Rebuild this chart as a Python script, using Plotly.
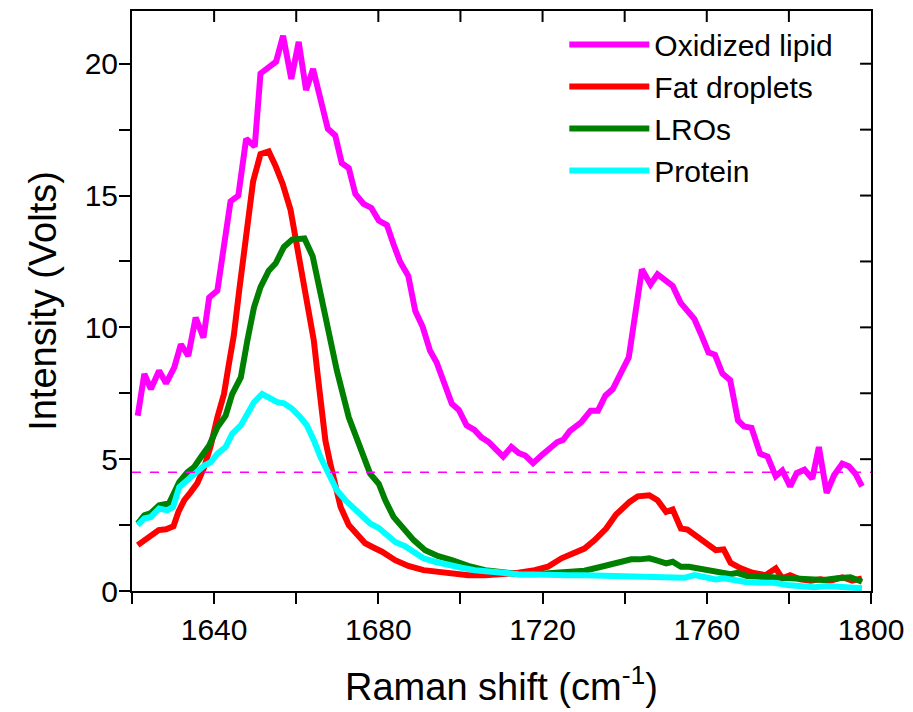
import plotly.graph_objects as go

# ---------------- data ----------------
ox_x = [1621.4, 1623.0, 1624.6, 1626.6, 1628.3, 1630.3, 1631.9, 1633.7, 1635.5, 1637.4,
        1638.8, 1640.8, 1644.0, 1645.9, 1647.8, 1649.9, 1651.3, 1653.3, 1655.1, 1656.8,
        1658.8, 1660.6, 1662.4, 1664.1, 1665.9, 1667.7, 1669.5, 1671.1, 1672.8, 1674.4,
        1676.4, 1678.3, 1680.1, 1682.1, 1683.7, 1685.3, 1687.3, 1689.0, 1690.8, 1692.6,
        1694.2, 1697.9, 1699.6, 1701.5, 1703.4, 1705.1, 1706.9, 1708.8, 1710.4, 1712.4,
        1714.2, 1715.8, 1717.7, 1719.7, 1721.7, 1723.6, 1725.0, 1726.6, 1729.4, 1731.7,
        1733.5, 1735.3, 1737.1, 1739.1, 1741.0, 1744.2, 1746.3, 1748.0, 1750.1, 1751.7,
        1753.6, 1755.2, 1757.0, 1758.6, 1760.4, 1762.0, 1763.8, 1765.7, 1767.6, 1769.1,
        1770.9, 1773.0, 1774.8, 1776.8, 1778.4, 1780.3, 1781.9, 1783.8, 1785.7, 1787.3,
        1789.2, 1791.0, 1793.0, 1794.6, 1796.2, 1797.8]
ox_y = [6.65, 8.23, 7.66, 8.36, 7.88, 8.48, 9.36, 8.92, 10.37, 9.61,
        11.13, 11.4, 14.78, 15.0, 17.15, 16.86, 19.63, 19.89, 20.08, 21.06,
        19.42, 20.83, 19.0, 19.8, 18.69, 17.53, 17.28, 16.23, 16.04, 15.06,
        14.68, 14.53, 14.05, 13.88, 13.15, 12.49, 11.95, 10.62, 10.02, 9.11,
        8.67, 7.10, 6.87, 6.28, 6.11, 5.83, 5.65, 5.33, 5.10, 5.46,
        5.23, 5.14, 4.85, 5.14, 5.42, 5.65, 5.73, 6.06, 6.40, 6.84,
        6.84, 7.41, 7.66, 8.29, 8.86, 12.2, 11.63, 12.01, 11.76, 11.57,
        10.94, 10.6, 10.31, 9.74, 9.05, 8.96, 8.25, 8.0, 6.47, 6.24,
        6.19, 5.21, 5.10, 4.35, 4.57, 3.97, 4.47, 4.60, 4.26, 5.46,
        3.72, 4.39, 4.83, 4.73, 4.45, 3.97]

fat_x = [1621.4, 1623.0, 1624.6, 1626.5, 1628.3, 1630.1, 1631.3, 1632.7, 1634.3, 1635.9,
         1637.6, 1639.2, 1640.8, 1642.4, 1643.6, 1644.8, 1646.1, 1647.8, 1649.5, 1651.3,
         1653.3, 1655.0, 1656.7, 1658.6, 1660.2, 1661.8, 1663.1, 1664.3, 1665.2, 1666.1,
         1667.1, 1668.3, 1669.5, 1670.8, 1672.8, 1674.8, 1676.8, 1678.8, 1680.9, 1684.1,
         1687.3, 1691.0, 1693.8, 1697.5, 1701.9, 1706.0, 1710.0, 1714.1, 1718.1, 1721.3,
         1724.6, 1727.8, 1730.2, 1732.7, 1735.5, 1737.9, 1741.2, 1743.2, 1746.0, 1748.0,
         1750.1, 1751.7, 1753.7, 1755.3, 1757.8, 1761.0, 1762.2, 1764.1, 1765.8, 1768.3,
         1771.1, 1774.3, 1776.8, 1778.4, 1780.3, 1782.8, 1785.3, 1787.7, 1790.1, 1793.0,
         1795.4, 1797.8]
fat_y = [1.74, 1.93, 2.05, 2.31, 2.34, 2.46, 3.0, 3.44, 3.75, 4.09,
         4.70, 5.52, 6.59, 7.47, 8.61, 9.7, 11.38, 13.52, 15.54, 16.57,
         16.67, 16.11, 15.44, 14.47, 13.02, 11.55, 10.4, 9.49, 8.23, 6.84,
         5.71, 4.83, 3.94, 3.19, 2.50, 2.12, 1.81, 1.65, 1.49, 1.17,
         0.95, 0.79, 0.73, 0.64, 0.60, 0.60, 0.64, 0.69, 0.79, 0.92,
         1.24, 1.43, 1.61, 1.93, 2.37, 2.90, 3.38, 3.59, 3.63, 3.44,
         3.0, 3.09, 2.37, 2.33, 2.05, 1.67, 1.55, 1.58, 1.07, 0.86,
         0.69, 0.60, 0.86, 0.48, 0.60, 0.44, 0.39, 0.44, 0.39, 0.52,
         0.39, 0.48]

lro_x = [1621.4, 1623.0, 1624.6, 1626.6, 1629.0, 1631.5, 1633.5, 1635.1, 1636.8, 1638.8,
         1640.8, 1642.8, 1644.4, 1646.5, 1648.1, 1649.7, 1651.3, 1653.3, 1655.0, 1657.0,
         1659.0, 1662.0, 1664.0, 1665.9, 1667.9, 1669.9, 1672.8, 1675.2, 1678.0, 1680.1,
         1681.7, 1683.7, 1686.1, 1688.6, 1691.4, 1694.6, 1697.9, 1701.9, 1706.0, 1710.0,
         1714.1, 1718.1, 1722.1, 1726.2, 1730.2, 1734.3, 1737.5, 1739.5, 1741.6, 1743.6,
         1746.0, 1748.0, 1750.1, 1751.7, 1753.7, 1755.7, 1757.8, 1760.2, 1763.4, 1765.8,
         1767.4, 1769.8, 1773.1, 1775.6, 1778.4, 1782.0, 1785.3, 1788.5, 1791.8, 1795.0,
         1797.8]
lro_y = [2.56, 2.87, 2.96, 3.25, 3.32, 4.13, 4.51, 4.70, 5.08, 5.52,
         6.21, 6.65, 7.47, 8.1, 9.5, 10.75, 11.53, 12.15, 12.43, 13.05,
         13.33, 13.37, 12.70, 11.3, 9.87, 8.36, 6.59, 5.58, 4.45, 4.07,
         3.44, 2.81, 2.37, 1.93, 1.55, 1.32, 1.17, 0.95, 0.79, 0.69,
         0.64, 0.64, 0.67, 0.69, 0.77, 0.92, 1.05, 1.17, 1.20, 1.20,
         1.24, 1.15, 1.05, 1.11, 0.92, 0.92, 0.86, 0.77, 0.73, 0.64,
         0.69, 0.57, 0.54, 0.52, 0.48, 0.44, 0.39, 0.42, 0.48, 0.52,
         0.35]

pro_x = [1621.4, 1623.0, 1624.6, 1626.6, 1628.6, 1630.0, 1631.5, 1633.5, 1635.5, 1637.6,
         1639.2, 1640.8, 1642.8, 1644.4, 1646.5, 1648.1, 1649.7, 1651.7, 1653.3, 1655.4,
         1657.0, 1659.0, 1661.0, 1662.6, 1664.3, 1665.9, 1667.9, 1669.9, 1672.0, 1674.0,
         1676.0, 1678.0, 1680.1, 1682.1, 1684.1, 1686.5, 1688.6, 1691.0, 1693.8, 1697.1,
         1700.3, 1703.5, 1706.8, 1710.0, 1714.1, 1718.1, 1722.1, 1726.2, 1730.2, 1734.3,
         1739.1, 1741.6, 1744.8, 1748.0, 1750.9, 1754.5, 1757.0, 1759.4, 1762.2, 1764.2,
         1766.7, 1769.5, 1773.1, 1776.4, 1779.6, 1782.8, 1786.1, 1789.3, 1792.6, 1795.8,
         1797.8]
pro_y = [2.50, 2.75, 2.81, 3.13, 3.06, 3.19, 3.94, 4.20, 4.45, 4.76,
         4.89, 5.21, 5.46, 5.96, 6.28, 6.72, 7.16, 7.47, 7.35, 7.16,
         7.12, 6.91, 6.59, 6.28, 5.71, 5.08, 4.45, 3.82, 3.44, 3.13,
         2.87, 2.56, 2.39, 2.12, 1.86, 1.70, 1.49, 1.24, 1.11, 0.98,
         0.88, 0.79, 0.73, 0.67, 0.64, 0.63, 0.60, 0.60, 0.60, 0.58,
         0.60, 0.57, 0.54, 0.50, 0.54, 0.50, 0.60, 0.52, 0.44, 0.48,
         0.39, 0.34, 0.31, 0.31, 0.23, 0.16, 0.14, 0.19, 0.14, 0.14,
         0.10]

series_names = ["Oxidized lipid", "Fat droplets", "LROs", "Protein"]
series_colors = ["#FF00FF", "#FF0000", "#008000", "#00FFFF"]
threshold = 4.5

x_range = [1620, 1800]
y_range = [0, 22]
x_ticks = [1640, 1680, 1720, 1760, 1800]
x_minor = [1620, 1660, 1700, 1740, 1780]
x_top_ticks = [1640, 1660, 1680, 1700, 1720, 1740, 1760, 1780]
y_ticks = [0, 5, 10, 15, 20]
y_right_ticks = [2.5, 5, 7.5, 10, 12.5, 15, 17.5, 20]

FONT = "Arial, Liberation Sans, sans-serif"
W, H = 913, 712
M = dict(l=132, r=38, t=9, b=121)
TICK_LEN = 11  # px

fig = go.Figure()
for name, color, xs, ys in zip(series_names, series_colors,
                               [ox_x, fat_x, lro_x, pro_x],
                               [ox_y, fat_y, lro_y, pro_y]):
    fig.add_trace(go.Scatter(x=xs, y=ys, mode="lines", name=name,
                             line=dict(color=color, width=6)))

fig.add_hline(y=threshold, line=dict(color="#FF00FF", width=1.5, dash="dash"))

# inward-pointing mirror ticks on the top and right frame edges
tick_frac_y = TICK_LEN / (H - M["t"] - M["b"])
tick_frac_x = TICK_LEN / (W - M["l"] - M["r"])
tick_line = dict(color="black", width=2)
for t in x_top_ticks:
    fig.add_shape(type="line", xref="x", yref="y domain", x0=t, x1=t,
                  y0=1, y1=1 - tick_frac_y, line=tick_line, layer="above")
for t in y_right_ticks:
    fig.add_shape(type="line", xref="x domain", yref="y", x0=1, x1=1 - tick_frac_x,
                  y0=t, y1=t, line=tick_line, layer="above")

fig.update_layout(
    width=W, height=H,
    margin=M,
    paper_bgcolor="white", plot_bgcolor="white",
    font=dict(family=FONT, color="black", size=30),
    showlegend=True,
    legend=dict(x=0.585, y=0.987, xanchor="left", yanchor="top",
                bgcolor="rgba(0,0,0,0)", borderwidth=0,
                font=dict(size=30, family=FONT), itemwidth=80,
                tracegroupgap=0),
    xaxis=dict(range=x_range, tickmode="array", tickvals=x_ticks,
               ticks="outside", ticklen=TICK_LEN, tickwidth=2, tickcolor="black",
               showline=True, linewidth=2, linecolor="black", mirror=True,
               showgrid=False, zeroline=False, tickfont=dict(size=30),
               minor=dict(tickvals=x_minor, ticks="outside", ticklen=TICK_LEN,
                          tickwidth=2, tickcolor="black", showgrid=False),
               title=dict(text="Raman shift (cm<sup>-1</sup>)", font=dict(size=38),
                          standoff=28)),
    yaxis=dict(range=y_range, tickmode="array", tickvals=y_ticks,
               ticks="outside", ticklen=TICK_LEN, tickwidth=2, tickcolor="black",
               showline=True, linewidth=2, linecolor="black", mirror=True,
               showgrid=False, zeroline=False, tickfont=dict(size=30),
               ticklabelstandoff=-5,
               minor=dict(dtick=2.5, ticks="outside", ticklen=TICK_LEN, tickwidth=2,
                          tickcolor="black", showgrid=False),
               title=dict(text="Intensity (Volts)", font=dict(size=38),
                          standoff=16)),
)

fig.write_html("out.html")
